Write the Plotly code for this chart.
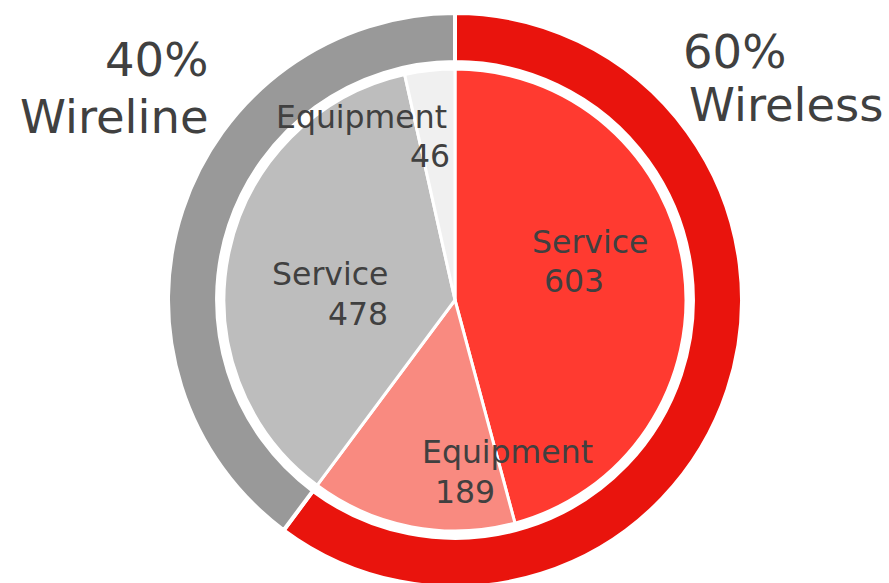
import plotly.graph_objects as go

# ---- data ----
groups = ["Wireless", "Wireless", "Wireline", "Wireline"]
categories = ["Service", "Equipment", "Service", "Equipment"]
values = [603, 189, 478, 46]
segment_names = ["Wireless", "Wireline"]

# ---- styles ----
inner_colors = ["#FF3A30", "#F98A80", "#BDBDBD", "#F0F0F0"]
outer_colors = ["#E9140D", "#999999"]
TEXT = "#404040"
FONT = "DejaVu Sans"
W, H = 889, 588  # figure slightly taller than the 583px window; bottom edge clipped

seg_totals = [sum(v for g, v in zip(groups, values) if g == s) for s in segment_names]
total = sum(values)
seg_pct = [f"{round(100 * t / total)}%" for t in seg_totals]


def px_dom(cx, cy, r):
    return dict(x=[(cx - r) / W, (cx + r) / W], y=[1 - (cy + r) / H, 1 - (cy - r) / H])


fig = go.Figure()
fig.add_trace(go.Pie(
    values=seg_totals, labels=segment_names, sort=False, direction="clockwise",
    rotation=0, hole=0.829, textinfo="none", hoverinfo="label+value",
    marker=dict(colors=outer_colors, line=dict(color="white", width=4)),
    domain=px_dom(455, 300, 287), showlegend=False,
))
fig.add_trace(go.Pie(
    values=values, labels=[f"{g} {c}" for g, c in zip(groups, categories)],
    sort=False, direction="clockwise", rotation=0, textinfo="none",
    hoverinfo="label+value",
    marker=dict(colors=inner_colors, line=dict(color="white", width=3)),
    domain=px_dom(455, 300, 231), showlegend=False,
))

annotations = []


def label(text, x, baseline, fs, xanchor="center"):
    annotations.append(dict(
        text=text, x=x / W, y=1 - (baseline - 0.346 * fs) / H,
        xref="paper", yref="paper", xanchor=xanchor, yanchor="middle",
        showarrow=False, font=dict(family=FONT, size=fs, color=TEXT),
    ))


# inner slice labels (category line, value line)
inner_label_pos = [
    ((590, 253), (574, 292)),
    ((507.5, 463), (465.5, 503)),
    ((329.5, 285), (358, 325)),
    ((361.5, 128), (430, 167)),
]
for cat, val, (p1, p2) in zip(categories, values, inner_label_pos):
    label(cat, p1[0], p1[1], 31.5)
    label(str(val), p2[0], p2[1], 31.5)

# outer segment labels
label(seg_pct[0], 681, 68, 46.5, "left")
label(segment_names[0], 687, 121, 46.5, "left")
label(seg_pct[1], 210, 76, 46.5, "right")
label(segment_names[1], 211, 133, 46.5, "right")

fig.update_layout(
    width=W, height=H, margin=dict(l=0, r=0, t=0, b=0),
    paper_bgcolor="white", plot_bgcolor="white",
    annotations=annotations, showlegend=False,
)
fig.write_html(
    "out.html",
    config={"displayModeBar": False},
    post_script="document.body.style.margin='0';document.body.style.overflow='hidden';",
)
